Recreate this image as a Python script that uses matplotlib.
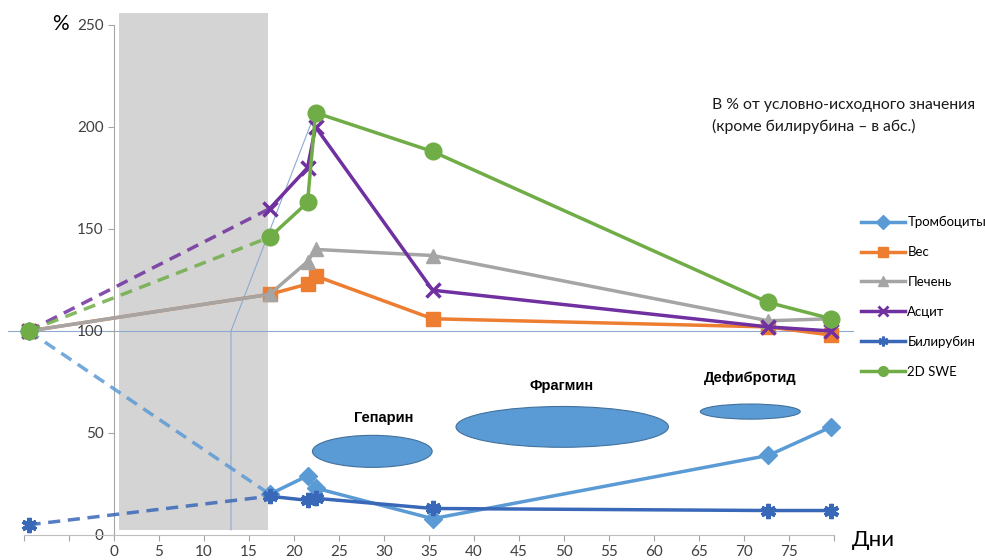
import numpy as np
import matplotlib.pyplot as plt
from matplotlib.patches import Ellipse, Rectangle
from matplotlib.lines import Line2D

plt.rcParams['font.family'] = ['Lato', 'Open Sans', 'DejaVu Sans']

# data
start_x = -9.5
days = [17.3, 21.5, 22.4, 35.4, 72.7, 79.7]

names = ['Тромбоциты', 'Вес', 'Печень', 'Асцит', 'Билирубин', '2D SWE']
start_vals = [100, 100, 100, 100, 5, 100]
platelets = [20, 29, 23, 8, 39, 53]
weight = [118, 123, 127, 106, 102, 98]
liver = [118, 134, 140, 137, 105, 106]
ascites = [160, 180, 200, 120, 102, 100]
bilirubin = [19, 17, 18, 13, 12, 12]
swe = [146, 163, 207, 188, 114, 106]
series = [platelets, weight, liver, ascites, bilirubin, swe]

colors = ['#5B9BD5', '#ED7D31', '#A5A5A5', '#7030A0', '#3A68B8', '#70AD47']
markers = ['D', 's', '^', 'x', (6, 2, 0), 'o']
msizes = [9, 10, 10, 10, 11, 12]
medge = [1, 1, 1, 2.5, 3, 1]
dashed_start = [True, False, False, True, True, True]

drugs = ['Гепарин', 'Фрагмин', 'Дефибротид']
drug_cx = [28.7, 49.8, 70.7]
drug_cy = [41, 53, 60.5]
drug_w = [13.3, 23.6, 11.1]
drug_h = [15.7, 20, 7.4]
drug_lx = [30, 49.7, 70.7]
drug_ly = [57.5, 73, 77]

shade_x = (0.5, 17.1)
shade_y = (2.5, 256)
ref_x = [-11.8, 82.1]
ref_y = [100, 100]
guide_x = [13, 13, 22]
guide_y = [2.5, 100, 203]

fig = plt.figure(figsize=(9.85, 5.6), dpi=100)
ax = fig.add_axes([24/985, 25/560, 810/985, 510/560])
ax.set_xlim(-10, 80)
ax.set_ylim(0, 250)

ax.add_patch(Rectangle((shade_x[0], shade_y[0]), shade_x[1]-shade_x[0],
                       shade_y[1]-shade_y[0], facecolor='#D4D4D4',
                       edgecolor='none', zorder=0, clip_on=False))

ax.plot(ref_x, ref_y, color='#8EA9D0', lw=0.8, zorder=1, clip_on=False)
ax.plot(guide_x, guide_y, color='#8EA9D0', lw=0.8, zorder=1, clip_on=False)

for i in range(len(drugs)):
    e = Ellipse((drug_cx[i], drug_cy[i]), drug_w[i], drug_h[i],
                facecolor='#5B9BD5', edgecolor='#41719C', lw=0.8, zorder=2)
    ax.add_patch(e)
    ax.text(drug_lx[i], drug_ly[i], drugs[i], ha='center', va='center',
            fontsize=10.5, fontweight='bold',
            family=['Liberation Sans Narrow', 'Liberation Sans', 'DejaVu Sans'])

handles = []
for i in range(len(names)):
    c = colors[i]
    z = 3 + i
    ls = '--' if dashed_start[i] else '-'
    line, = ax.plot([start_x, days[0]], [start_vals[i], series[i][0]],
                    color=c, lw=2.5, ls=ls, zorder=z, clip_on=False)
    if dashed_start[i]:
        line.set_dashes((3.5, 2.2))
        line.set_alpha(0.85)
    ax.plot([start_x], [start_vals[i]], marker=markers[i], ms=msizes[i],
            mew=medge[i], color=c, ls='none', zorder=z, clip_on=False)
    ax.plot(days, series[i], color=c, lw=2.5, marker=markers[i],
            ms=msizes[i], mew=medge[i], zorder=z, clip_on=False)
    handles.append(Line2D([], [], color=c, lw=2.5, marker=markers[i],
                          ms=7, mew=min(medge[i], 2)))

for s in ['top', 'right']:
    ax.spines[s].set_visible(False)
ax.spines['left'].set_position(('data', 0))
ax.spines['left'].set_color('#A6A6A6')
ax.spines['bottom'].set_color('#BFBFBF')

xt = np.arange(-10, 81, 5)
ax.set_xticks(xt)
ax.set_xticklabels([str(v) if 0 <= v <= 75 else '' for v in xt])
ax.set_yticks(np.arange(0, 251, 50))
ax.tick_params(axis='both', direction='out', length=4, colors='#A6A6A6',
               labelcolor='#404040', labelsize=11)

fig.text(60/985, 1-24/560, '%', fontsize=15, ha='center', va='center')
fig.text(873/985, 1-540/560, 'Дни', fontsize=16, ha='center', va='center')
fig.text(712/985, 1-98/560,
         'В % от условно-исходного значения\n(кроме билирубина – в абс.)',
         fontsize=11.3, ha='left', va='top', linespacing=1.55, color='#1A1A1A')

fig.legend(handles, names, loc='upper left',
           bbox_to_anchor=(856/985, 1-211/560), frameon=False,
           fontsize=9.5, labelspacing=1.35, handlelength=3.3,
           handletextpad=0.2, borderaxespad=0)

fig.savefig('out.png', dpi=100)
